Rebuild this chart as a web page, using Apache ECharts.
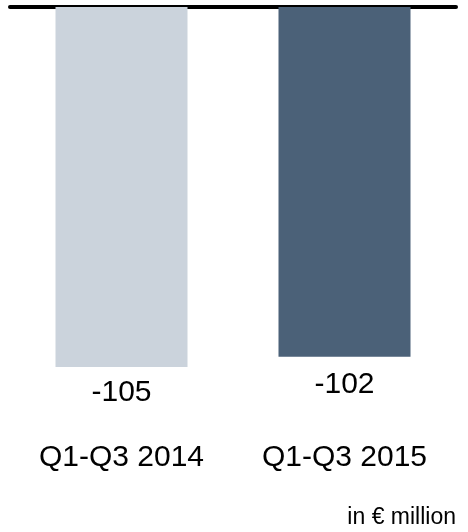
<!DOCTYPE html>
<html>
<head>
<meta charset="utf-8">
<style>html,body{margin:0;padding:0;background:#fff;}#c{width:468px;height:532px;}</style>
<script src="https://cdn.jsdelivr.net/npm/echarts@6/dist/echarts.min.js"></script>
</head>
<body>
<div id="c"></div>
<script>
var categories = ['Q1-Q3 2014', 'Q1-Q3 2015'];
var values = [-105, -102];
var barColors = ['#cbd3dc', '#4b6178'];
var labelDistances = [11, 13];
var unitText = 'in € million';

var chart = echarts.init(document.getElementById('c'), null, {renderer: 'canvas'});
var font = 'Liberation Sans, Arial, sans-serif';
chart.setOption({
  animation: false,
  grid: {left: 10, right: 12, top: 7, bottom: 113.6, containLabel: false},
  xAxis: [{
    type: 'category', data: categories, position: 'top',
    axisLine: {show: true, onZero: false, lineStyle: {color: '#000', width: 4}},
    axisTick: {show: false}, axisLabel: {show: false}, splitLine: {show: false}
  }, {
    type: 'category', data: categories, position: 'bottom',
    axisLine: {show: false}, axisTick: {show: false}, splitLine: {show: false},
    axisLabel: {show: true, margin: 24, color: '#000', fontSize: 30, fontFamily: font}
  }],
  yAxis: {
    type: 'value', min: -120, max: 0, show: false, splitLine: {show: false}
  },
  series: [{
    type: 'bar', xAxisIndex: 0, barWidth: 132,
    data: values.map(function (v, i) {
      return {value: v, itemStyle: {color: barColors[i]}, label: {distance: labelDistances[i]}};
    }),
    label: {show: true, position: 'bottom', color: '#000', fontSize: 30, fontFamily: font}
  }],
  graphic: [{
    type: 'text', right: 12, top: 506,
    style: {text: unitText, fill: '#000', fontSize: 23, fontFamily: font}
  }]
});
</script>
</body>
</html>
